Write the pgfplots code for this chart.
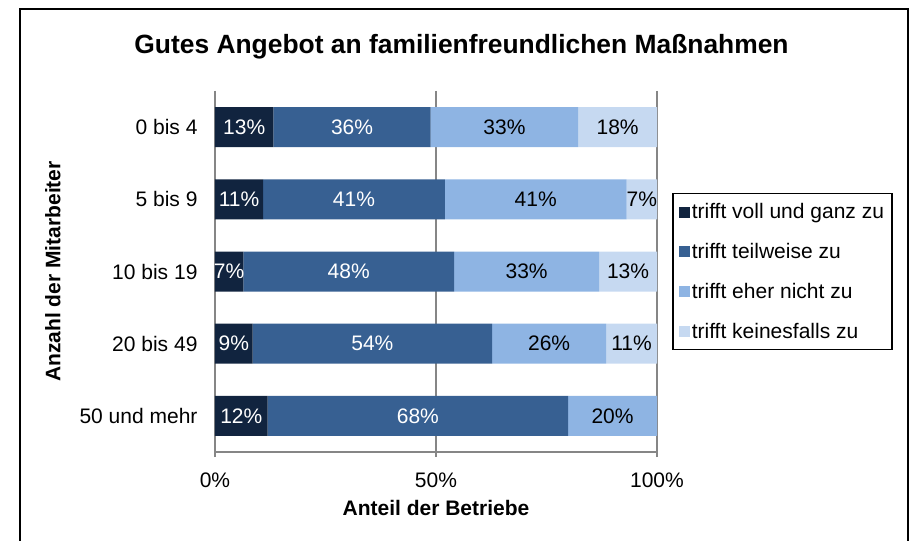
\documentclass[border=0pt]{standalone}
\usepackage{pgfplots}
\pgfplotsset{compat=1.18}
\usepackage{pgfplotstable}
\usepackage{fontspec}
\setmainfont{Liberation Sans}
\definecolor{c1}{HTML}{11243F}
\definecolor{c2}{HTML}{376092}
\definecolor{c3}{HTML}{8EB4E3}
\definecolor{c4}{HTML}{C6D9F1}
\definecolor{axgray}{HTML}{868686}
\newcommand{\lblfont}{\fontsize{21}{24}\selectfont}

\pgfplotstableread{
y v l
0 13.2 13
1 10.9 11
2 6.4 7
3 8.5 9
4 11.9 12
}\sA
\pgfplotstableread{
y v l
0 35.6 36
1 41.1 41
2 47.7 48
3 54.2 54
4 68.0 68
}\sB
\pgfplotstableread{
y v l
0 33.4 33
1 41.1 41
2 32.8 33
3 25.8 26
4 20.1 20
}\sC
\pgfplotstableread{
y v l
0 17.8 18
1 6.9 7
2 13.1 13
3 11.5 11
}\sD

\begin{document}
\begin{tikzpicture}
\path[use as bounding box] (0pt,0pt) rectangle (914pt,541pt);
\draw[line width=2pt] (19.5pt,-10pt) -- (19.5pt,532pt) -- (908pt,532pt) -- (908pt,-10pt);
\node[anchor=base, font=\bfseries\fontsize{26.4}{30}\selectfont, inner sep=0pt] at (461.5pt,487pt) {Gutes Angebot an familienfreundlichen Maßnahmen};
\begin{axis}[
  at={(215pt,89pt)}, anchor=south west,
  scale only axis, width=442pt, height=361pt,
  xbar stacked, bar width=40pt,
  xmin=0, xmax=100, ymin=-0.5, ymax=4.5, y dir=reverse,
  axis lines*=left,
  axis line style={axgray, line width=1.3pt},
  xtick={0,50,100},
  xticklabel={\pgfmathprintnumber{\tick}\%},
  ytick={0,1,2,3,4},
  yticklabels={0 bis 4,5 bis 9,10 bis 19,20 bis 49,50 und mehr},
  minor ytick={-0.5,0.5,1.5,2.5,3.5,4.5},
  tick align=outside,
  major tick length=5pt, minor tick length=6pt,
  xtick style={axgray, line width=1.3pt},
  ytick style={draw=none},
  minor tick style={axgray, line width=1.3pt},
  xmajorgrids, major grid style={axgray, line width=1.3pt},
  /pgf/number format/assume math mode=true,
  ticklabel style={font=\lblfont, black},
  xticklabel style={yshift=-12pt},
  yticklabel style={xshift=-9pt},
  xlabel={Anteil der Betriebe},
  ylabel={Anzahl der Mitarbeiter},
  label style={font=\bfseries\fontsize{21}{24}\selectfont},
  xlabel style={at={(axis description cs:0.5,-0.155)}, anchor=center},
  ylabel style={at={(axis description cs:-0.367,0.5)}, anchor=center},
  legend style={at={(axis description cs:1.034,0.7175)}, anchor=north west,
    draw=black, line width=1.5pt, font=\lblfont, inner xsep=6pt, inner ysep=8pt,
    row sep=19pt, nodes={inner sep=2pt}},
  legend cell align=left,
  legend image code/.code={\fill[#1,draw=none] (0pt,-5.5pt) rectangle (11pt,5.5pt);},
  nodes near coords={\pgfplotspointmeta\%},
  point meta=explicit symbolic,
  every node near coord/.append style={font=\lblfont, anchor=center},
]
\addplot[fill=c1, draw=none, every node near coord/.append style={white}] table[x=v, y=y, meta=l] {\sA};
\addplot[fill=c2, draw=none, every node near coord/.append style={white}] table[x=v, y=y, meta=l] {\sB};
\addplot[fill=c3, draw=none, every node near coord/.append style={black}] table[x=v, y=y, meta=l] {\sC};
\addplot[fill=c4, draw=none, every node near coord/.append style={black}] table[x=v, y=y, meta=l] {\sD};
\legend{trifft voll und ganz zu, trifft teilweise zu, trifft eher nicht zu, trifft keinesfalls zu}
\end{axis}
\end{tikzpicture}
\end{document}
